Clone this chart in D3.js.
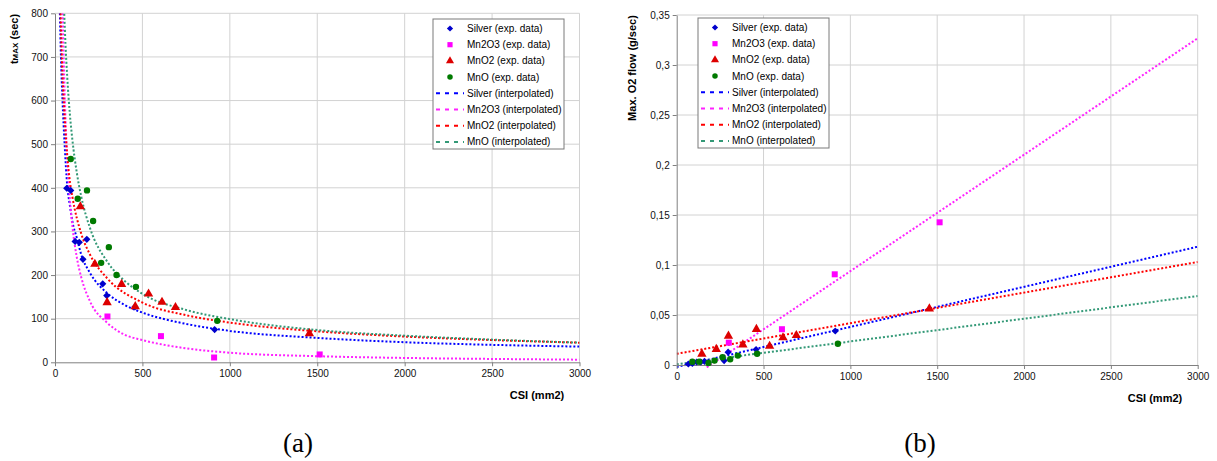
<!DOCTYPE html>
<html>
<head>
<meta charset="utf-8">
<script src="https://cdn.jsdelivr.net/npm/d3@7/dist/d3.min.js"></script>
<style>
  html, body { margin: 0; padding: 0; background: #fff; }
  svg { display: block; font-family: "Liberation Sans", Arial, sans-serif; }
  .caption { font-family: "Liberation Serif", "DejaVu Serif", serif; }
</style>
</head>
<body>
<svg id="chart" width="1217" height="461"></svg>
<script>
// ---- axis ticks ----
const csiTicks = [0, 500, 1000, 1500, 2000, 2500, 3000];
const tmaxTicks = [0, 100, 200, 300, 400, 500, 600, 700, 800];
const flowTicks = [0, 0.05, 0.1, 0.15, 0.2, 0.25, 0.3, 0.35];

// ---- series names ----
const materials = ["Silver", "Mn2O3", "MnO2", "MnO"];

// ---- experimental data: CSI (mm2), tMAX (sec), max O2 flow (g/sec) ----
const silverCsi  = [67, 90, 115, 139, 160, 182, 273, 296, 457, 913];
const silverTmax = [399, 394, 277, 275, 236, 282, 180, 153, 127, 75];
const silverFlow = [0.001, 0.0015, 0.003, 0.003, 0.0037, 0.0027, 0.0044, 0.0128, 0.0155, 0.034];

const mn2o3Csi  = [300, 606, 910, 1514];
const mn2o3Tmax = [105, 60, 11, 18];
const mn2o3Flow = [0.0223, 0.0358, 0.0907, 0.1427];

const mno2Csi  = [145, 228, 298, 381, 459, 535, 612, 689, 1455];
const mno2Tmax = [357, 225, 137, 179, 128, 157, 138, 126, 66];
const mno2Flow = [0.011, 0.0158, 0.029, 0.0203, 0.0358, 0.0189, 0.0274, 0.0297, 0.0563];

const mnoCsi  = [90, 130, 183, 218, 264, 308, 352, 463, 928];
const mnoTmax = [466, 375, 394, 324, 228, 264, 200, 173, 95];
const mnoFlow = [0.0033, 0.0033, 0.002, 0.0044, 0.0077, 0.0057, 0.0094, 0.0112, 0.0213];

// ---- interpolated tMAX curves ----
const silverCurveCsi = [28, 34, 43, 55, 70, 85, 100, 125, 150, 200, 300, 400, 500, 750, 1000, 1500, 2000, 2500, 3000];
const silverCurveT   = [800, 700, 600, 500, 405, 360, 322, 285, 247, 205, 158, 131, 114, 88, 72, 56, 46, 40, 36];

const mn2o3CurveCsi = [44, 50, 60, 70, 85, 100, 125, 150, 200, 300, 400, 500, 750, 1000, 1500, 2000, 2500, 3000];
const mn2o3CurveT   = [800, 693, 559, 469, 374, 310, 240, 195, 140, 90, 63, 51, 32, 22, 14, 10, 7.7, 6];

const mno2CurveCsi = [32, 40, 52, 65, 82, 100, 150, 200, 300, 500, 750, 1000, 1500, 2000, 2500, 3000];
const mno2CurveT   = [800, 690, 585, 500, 425, 378, 295, 247, 192, 137, 108, 91, 71, 59, 51, 45];

const mnoCurveCsi = [52, 60, 70, 85, 100, 125, 150, 200, 300, 400, 500, 750, 1000, 1500, 2000, 2500, 3000];
const mnoCurveT   = [808, 729, 654, 569, 508, 434, 380, 308, 230, 186, 157, 120, 99, 74, 61, 52, 45];

// ---- interpolated (linear) flow lines ----
const silverLineCsi = [0, 3000];
const silverLineFlow = [-0.002, 0.1183];
const mn2o3LineCsi = [173, 3000];
const mn2o3LineFlow = [-0.0024, 0.3267];
const mno2LineCsi = [0, 3000];
const mno2LineFlow = [0.0112, 0.103];
const mnoLineCsi = [0, 3000];
const mnoLineFlow = [0.0008, 0.069];

// ---- styles ----
const markerColor = { Silver: "#0000cc", Mn2O3: "#ff00ff", MnO2: "#dd0000", MnO: "#007a00" };
const lineColor   = { Silver: "#0000ff", Mn2O3: "#ff22ff", MnO2: "#ff0000", MnO: "#339977" };
const markerShape = { Silver: d3.symbolSquare, Mn2O3: d3.symbolSquare, MnO2: d3.symbolTriangle, MnO: d3.symbolCircle };
const markerRotate = { Silver: 45, Mn2O3: 0, MnO2: 0, MnO: 0 };
const markerSize  = { Silver: 26, Mn2O3: 36, MnO2: 38, MnO: 32 };

const zip = (xs, ys) => xs.map((x, i) => [x, ys[i]]);

const expA = {
  Silver: zip(silverCsi, silverTmax), Mn2O3: zip(mn2o3Csi, mn2o3Tmax),
  MnO2: zip(mno2Csi, mno2Tmax), MnO: zip(mnoCsi, mnoTmax)
};
const expB = {
  Silver: zip(silverCsi, silverFlow), Mn2O3: zip(mn2o3Csi, mn2o3Flow),
  MnO2: zip(mno2Csi, mno2Flow), MnO: zip(mnoCsi, mnoFlow)
};
const fitA = {
  Silver: zip(silverCurveCsi, silverCurveT), Mn2O3: zip(mn2o3CurveCsi, mn2o3CurveT),
  MnO2: zip(mno2CurveCsi, mno2CurveT), MnO: zip(mnoCurveCsi, mnoCurveT)
};
const fitB = {
  Silver: zip(silverLineCsi, silverLineFlow), Mn2O3: zip(mn2o3LineCsi, mn2o3LineFlow),
  MnO2: zip(mno2LineCsi, mno2LineFlow), MnO: zip(mnoLineCsi, mnoLineFlow)
};

const svg = d3.select("#chart");

function drawPanel(cfg) {
  const x = d3.scaleLinear().domain([0, 3000]).range([cfg.left, cfg.right]);
  const y = d3.scaleLinear().domain(cfg.yDomain).range([cfg.bottom, cfg.top]);
  const g = svg.append("g");

  // grid
  g.append("g").selectAll("line").data(cfg.yTicks.slice(1)).join("line")
    .attr("x1", cfg.left).attr("x2", cfg.right)
    .attr("y1", d => y(d)).attr("y2", d => y(d))
    .attr("stroke", "#d2d2d2").attr("stroke-width", 1);
  g.append("g").selectAll("line").data(csiTicks.slice(1)).join("line")
    .attr("y1", cfg.top).attr("y2", cfg.bottom)
    .attr("x1", d => x(d)).attr("x2", d => x(d))
    .attr("stroke", "#d2d2d2").attr("stroke-width", 1);

  // clip for fitted lines
  const clipId = "clip-" + cfg.id;
  svg.append("clipPath").attr("id", clipId).append("rect")
    .attr("x", cfg.left).attr("y", cfg.top)
    .attr("width", cfg.right - cfg.left).attr("height", cfg.bottom - cfg.top + 3);

  // fitted curves
  const line = d3.line().x(d => x(d[0])).y(d => y(d[1])).curve(cfg.curve);
  const lines = g.append("g").attr("clip-path", `url(#${clipId})`);
  materials.forEach(m => {
    lines.append("path").datum(cfg.fit[m])
      .attr("d", line).attr("fill", "none")
      .attr("stroke", lineColor[m]).attr("stroke-width", 2)
      .attr("stroke-dasharray", "2,2");
  });

  // axes
  const yAxis = d3.axisLeft(y).tickValues(cfg.yTicks).tickSize(4).tickSizeOuter(0)
    .tickFormat(cfg.yFormat);
  const ya = g.append("g").attr("transform", `translate(${cfg.left},0)`).call(yAxis);
  const xAxis = d3.axisBottom(x).tickValues(csiTicks).tickSize(4).tickSizeOuter(0)
    .tickFormat(d3.format("d"));
  const xa = g.append("g").attr("transform", `translate(0,${cfg.bottom})`).call(xAxis);
  [ya, xa].forEach(a => {
    a.attr("font-family", null).attr("font-size", null);
    a.select(".domain").attr("stroke", "#808080");
    a.selectAll(".tick line").attr("stroke", "#808080");
    a.selectAll(".tick text").style("font-size", "10px").attr("fill", "#111");
  });
  ya.selectAll(".tick text").attr("x", -7);
  xa.selectAll(".tick text").attr("y", 8);

  // experimental points
  materials.forEach(m => {
    g.append("g").selectAll("path").data(cfg.exp[m]).join("path")
      .attr("transform", d => `translate(${x(d[0])},${y(d[1])}) rotate(${markerRotate[m]})`)
      .attr("d", d3.symbol().type(markerShape[m]).size(markerSize[m]))
      .attr("fill", markerColor[m]);
  });

  // axis titles
  g.append("text").attr("x", cfg.xTitleX).attr("y", cfg.xTitleY)
    .attr("text-anchor", "middle").style("font-size", "11px").style("font-weight", "bold")
    .text("CSI (mm2)");
  cfg.yTitle(g);

  // legend
  const lg = g.append("g");
  lg.append("rect").attr("x", cfg.legX).attr("y", cfg.legY)
    .attr("width", 131).attr("height", 130)
    .attr("fill", "#fff").attr("stroke", "#7a7a7a").attr("stroke-width", 1);
  const rowY = i => cfg.legY + 9.5 + i * 16.2;
  materials.forEach((m, i) => {
    lg.append("path")
      .attr("transform", `translate(${cfg.legX + 17},${rowY(i)}) rotate(${markerRotate[m]})`)
      .attr("d", d3.symbol().type(markerShape[m]).size(markerSize[m] * 0.75))
      .attr("fill", markerColor[m]);
    lg.append("text").attr("x", cfg.legX + 34).attr("y", rowY(i) + 3.5)
      .style("font-size", "10px").text(`${m} (exp. data)`);
  });
  materials.forEach((m, j) => {
    const i = j + 4;
    lg.append("line")
      .attr("x1", cfg.legX + 3).attr("x2", cfg.legX + 31)
      .attr("y1", rowY(i)).attr("y2", rowY(i))
      .attr("stroke", lineColor[m]).attr("stroke-width", 2)
      .attr("stroke-dasharray", "4,5");
    lg.append("text").attr("x", cfg.legX + 34).attr("y", rowY(i) + 3.5)
      .style("font-size", "10px").text(`${m} (interpolated)`);
  });
}

// panel (a): tMAX versus CSI
drawPanel({
  id: "a", left: 55, right: 579.5, top: 13.3, bottom: 362.3,
  yDomain: [0, 800], yTicks: tmaxTicks, yFormat: d3.format("d"),
  exp: expA, fit: fitA, curve: d3.curveMonotoneX,
  xTitleX: 537, xTitleY: 399,
  legX: 433, legY: 19,
  yTitle: g => {
    const t = g.append("text")
      .attr("transform", "translate(18,39) rotate(-90)")
      .attr("text-anchor", "middle").style("font-size", "11px").style("font-weight", "bold");
    t.append("tspan").text("t");
    t.append("tspan").style("font-size", "8px").text("MAX");
    t.append("tspan").text(" (sec)");
  }
});

// panel (b): maximum O2 flow versus CSI
drawPanel({
  id: "b", left: 676.7, right: 1197.7, top: 15, bottom: 365,
  yDomain: [0, 0.35], yTicks: flowTicks,
  yFormat: d => d === 0 ? "0" : String(+d.toFixed(2)).replace(".", ","),
  exp: expB, fit: fitB, curve: d3.curveLinear,
  xTitleX: 1155, xTitleY: 402,
  legX: 698, legY: 18,
  yTitle: g => {
    g.append("text")
      .attr("transform", "translate(636,68) rotate(-90)")
      .attr("text-anchor", "middle").style("font-size", "11px").style("font-weight", "bold")
      .text("Max. O2 flow (g/sec)");
  }
});

// sub-figure captions
svg.append("text").attr("class", "caption").attr("x", 298).attr("y", 452)
  .attr("text-anchor", "middle").style("font-size", "27px").text("(a)");
svg.append("text").attr("class", "caption").attr("x", 920).attr("y", 452)
  .attr("text-anchor", "middle").style("font-size", "27px").text("(b)");
</script>
</body>
</html>
